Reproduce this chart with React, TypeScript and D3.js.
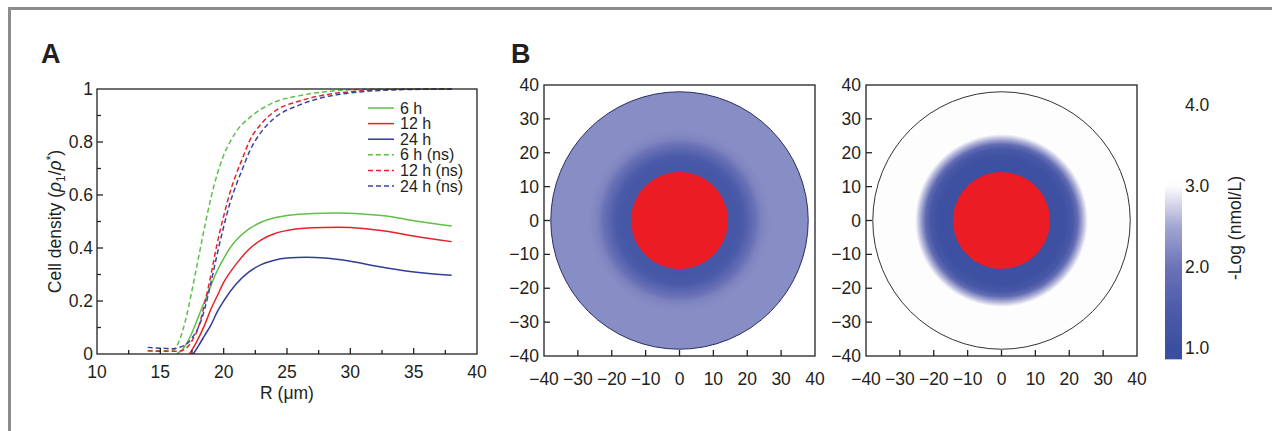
import React from 'react';
import * as d3 from 'd3';

// panel A: cell density vs R
const rSolid6 = [16.3, 16.8, 17.5, 18, 18.5, 19, 19.5, 20, 20.5, 21, 22, 23, 24, 25, 27, 29, 31, 33, 35, 38];
const vSolid6 = [0, 0.02, 0.08, 0.14, 0.2, 0.26, 0.315, 0.36, 0.4, 0.43, 0.472, 0.498, 0.514, 0.523, 0.53, 0.532, 0.528, 0.52, 0.503, 0.483];
const rSolid12 = [17.3, 17.8, 18.5, 19, 19.5, 20, 21, 22, 23, 24, 25, 27, 29, 31, 33, 35, 38];
const vSolid12 = [0, 0.04, 0.11, 0.17, 0.22, 0.27, 0.34, 0.395, 0.432, 0.454, 0.466, 0.476, 0.478, 0.474, 0.462, 0.445, 0.424];
const rSolid24 = [17.6, 18, 18.5, 19, 19.5, 20, 21, 22, 23, 24, 25, 26.5, 28, 30, 32, 34, 36, 38];
const vSolid24 = [0, 0.03, 0.07, 0.11, 0.16, 0.2, 0.265, 0.31, 0.338, 0.354, 0.362, 0.365, 0.362, 0.35, 0.332, 0.316, 0.305, 0.297];
const rDash6 = [14, 15, 16, 16.5, 17, 17.5, 18, 18.5, 19, 19.5, 20, 20.5, 21, 22, 23, 24, 26, 28, 30, 33, 38];
const vDash6 = [0.012, 0.012, 0.015, 0.05, 0.13, 0.24, 0.36, 0.48, 0.59, 0.68, 0.75, 0.8, 0.84, 0.89, 0.925, 0.95, 0.975, 0.99, 0.997, 1, 1];
const rDash12 = [14, 15, 16.5, 17, 17.5, 18, 18.5, 19, 19.5, 20, 20.5, 21, 21.5, 22, 23, 24, 26, 28, 30, 33, 38];
const vDash12 = [0.012, 0.01, 0.01, 0.02, 0.05, 0.1, 0.19, 0.3, 0.42, 0.52, 0.61, 0.68, 0.74, 0.8, 0.87, 0.915, 0.955, 0.978, 0.99, 0.998, 1];
const rDash24 = [14, 15, 16, 16.5, 17, 17.5, 18, 18.5, 19, 19.5, 20, 20.5, 21, 21.5, 22, 23, 24, 26, 28, 30, 33, 38];
const vDash24 = [0.025, 0.022, 0.02, 0.025, 0.035, 0.06, 0.1, 0.17, 0.27, 0.38, 0.48, 0.57, 0.64, 0.7, 0.76, 0.84, 0.89, 0.94, 0.97, 0.985, 0.996, 1];

const seriesNames = ['6 h', '12 h', '24 h', '6 h (ns)', '12 h (ns)', '24 h (ns)'];
const seriesColors = ['#5fbf4a', '#e5222a', '#2f3d98', '#5fbf4a', '#e5222a', '#3a43a2'];
const seriesDashed = [false, false, false, true, true, true];
const seriesR = [rSolid6, rSolid12, rSolid24, rDash6, rDash12, rDash24];
const seriesV = [vSolid6, vSolid12, vSolid24, vDash6, vDash12, vDash24];

const xTicksA = [10, 15, 20, 25, 30, 35, 40];
const xMinorA = [12.5, 17.5, 22.5, 27.5, 32.5, 37.5];
const yTicksA = [0, 0.2, 0.4, 0.6, 0.8, 1];
const yMinorA = [0.1, 0.3, 0.5, 0.7, 0.9];

// panel B: radial concentration profiles (-log nmol/L)
const fieldR = [0, 14.3, 17, 19, 21, 22.5, 24, 25.5, 27, 38];
const leftField = [1.25, 1.25, 1.3, 1.45, 1.75, 1.98, 2.15, 2.22, 2.25, 2.25];
const rightField = [1.05, 1.05, 1.05, 1.1, 1.35, 1.85, 2.55, 3.0, 3.0, 3.0];
const cellRadius = 14.3;
const domainRadius = 38;
const ticksB = [-40, -30, -20, -10, 0, 10, 20, 30, 40];

const cbValues = [1, 1.5, 2, 2.5, 3];
const cbColors = ['#3b4fa0', '#4e5caa', '#6b73b7', '#a3a6d2', '#fdfdfe'];
const cbTicks = [1, 2, 3, 4];

const fmtB = (v: number) => (v < 0 ? '\u2212' + Math.abs(v) : String(v));

export default function App() {
  const font = 'Liberation Sans, Arial, sans-serif';
  const fs = 17.5;
  const xA = d3.scaleLinear().domain([10, 40]).range([97, 477]);
  const yA = d3.scaleLinear().domain([0, 1]).range([354, 89]);
  const line = d3
    .line<[number, number]>()
    .x((d) => xA(d[0]))
    .y((d) => yA(d[1]))
    .curve(d3.curveMonotoneX);

  const yB = d3.scaleLinear().domain([-40, 40]).range([356, 85]);
  const xB1 = d3.scaleLinear().domain([-40, 40]).range([544, 815]);
  const xB2 = d3.scaleLinear().domain([-40, 40]).range([866, 1137]);
  const color = d3.scaleLinear<string>().domain(cbValues).range(cbColors).clamp(true);
  const yCb = d3.scaleLinear().domain([1, 3]).range([348, 186]);

  function field(x: d3.ScaleLinear<number, number>, id: string, vals: number[], stroke: string) {
    const cx = x(0);
    const cy = yB(0);
    const R = x(domainRadius) - cx;
    return (
      <g>
        <defs>
          <radialGradient id={id} gradientUnits="userSpaceOnUse" cx={cx} cy={cy} r={R}>
            {fieldR.map((r, i) => (
              <stop key={i} offset={r / domainRadius} stopColor={color(vals[i])} />
            ))}
          </radialGradient>
        </defs>
        <circle cx={cx} cy={cy} r={R} fill={`url(#${id})`} stroke={stroke} strokeWidth={1} />
        <circle cx={cx} cy={cy} r={x(cellRadius) - cx} fill="#ec1c24" />
        <rect x={x(-40)} y={yB(40)} width={x(40) - x(-40)} height={yB(-40) - yB(40)} fill="none" stroke="#222" strokeWidth={1.3} />
        {ticksB.slice(1, -1).map((t) => (
          <g key={t}>
            <line x1={x(t)} x2={x(t)} y1={yB(-40)} y2={yB(-40) - 6} stroke="#222" strokeWidth={1.3} />
            <line x1={x(-40)} x2={x(-40) + 6} y1={yB(t)} y2={yB(t)} stroke="#222" strokeWidth={1.3} />
          </g>
        ))}
        {ticksB.map((t) => (
          <text key={'x' + t} x={x(t)} y={yB(-40) + 29} textAnchor="middle" fontSize={fs}>
            {fmtB(t)}
          </text>
        ))}
        {ticksB.map((t) => (
          <text key={'y' + t} x={x(-40) - 5} y={yB(t) + 6} textAnchor="end" fontSize={fs}>
            {fmtB(t)}
          </text>
        ))}
      </g>
    );
  }

  const cbTop = yCb(3.05);
  const cbBottom = yCb(0.86);

  return (
    <svg width={1272} height={431} style={{ position: 'absolute', left: 0, top: 0, background: '#fff' }} fontFamily={font} fill="#231f20">
      <path d="M9.5,431 L9.5,8.5 L1272,8.5" fill="none" stroke="#8c8c8c" strokeWidth={3} />

      {/* panel A */}
      <text x={41} y={63} fontSize={27} fontWeight="bold">A</text>
      {seriesR.map((rs, i) => (
        <path
          key={i}
          d={line(rs.map((r, j) => [r, seriesV[i][j]] as [number, number])) || ''}
          fill="none"
          stroke={seriesColors[i]}
          strokeWidth={1.5}
          strokeDasharray={seriesDashed[i] ? '5,3' : undefined}
        />
      ))}
      <rect x={xA(10)} y={yA(1)} width={xA(40) - xA(10)} height={yA(0) - yA(1)} fill="none" stroke="#222" strokeWidth={1.3} />
      {xTicksA.slice(1, -1).map((t) => (
        <line key={t} x1={xA(t)} x2={xA(t)} y1={yA(0)} y2={yA(0) - 6} stroke="#222" strokeWidth={1.3} />
      ))}
      {xMinorA.map((t) => (
        <line key={t} x1={xA(t)} x2={xA(t)} y1={yA(0)} y2={yA(0) - 4} stroke="#222" strokeWidth={1.3} />
      ))}
      {yTicksA.slice(1, -1).map((t) => (
        <line key={t} x1={xA(10)} x2={xA(10) + 6} y1={yA(t)} y2={yA(t)} stroke="#222" strokeWidth={1.3} />
      ))}
      {yMinorA.map((t) => (
        <line key={t} x1={xA(10)} x2={xA(10) + 4} y1={yA(t)} y2={yA(t)} stroke="#222" strokeWidth={1.3} />
      ))}
      {xTicksA.map((t) => (
        <text key={t} x={xA(t)} y={yA(0) + 24} textAnchor="middle" fontSize={fs}>{t}</text>
      ))}
      {yTicksA.map((t) => (
        <text key={t} x={xA(10) - 4} y={yA(t) + 6} textAnchor="end" fontSize={fs}>{String(t)}</text>
      ))}
      <text x={(xA(10) + xA(40)) / 2} y={399} textAnchor="middle" fontSize={fs}>R (μm)</text>
      <text transform={`translate(61,${(yA(0) + yA(1)) / 2}) rotate(-90)`} textAnchor="middle" fontSize={fs}>
        Cell density (<tspan fontStyle="italic">ρ</tspan>
        <tspan fontSize={12} dy={4}>1</tspan>
        <tspan dy={-4}>/</tspan>
        <tspan fontStyle="italic">ρ</tspan>
        <tspan fontSize={12} dy={-6}>*</tspan>
        <tspan dy={6}>)</tspan>
      </text>
      {seriesNames.map((n, i) => (
        <g key={n}>
          <line x1={368} x2={394} y1={108 + i * 15.6} y2={108 + i * 15.6} stroke={seriesColors[i]} strokeWidth={1.5} strokeDasharray={seriesDashed[i] ? '5,3' : undefined} />
          <text x={400} y={113.5 + i * 15.6} fontSize={16}>{n}</text>
        </g>
      ))}

      {/* panel B */}
      <text x={511} y={63} fontSize={27} fontWeight="bold">B</text>
      {field(xB1, 'fieldLeft', leftField, '#2b2e60')}
      {field(xB2, 'fieldRight', rightField, '#333')}

      <defs>
        <linearGradient id="cbGrad" gradientUnits="userSpaceOnUse" x1={0} x2={0} y1={yCb(1)} y2={yCb(3)}>
          {cbValues.map((v, i) => (
            <stop key={v} offset={(v - 1) / 2} stopColor={cbColors[i]} />
          ))}
        </linearGradient>
      </defs>
      <rect x={1165} y={cbTop} width={17} height={cbBottom - cbTop} fill="url(#cbGrad)" />
      {cbTicks.map((t) => (
        <text key={t} x={1185} y={yCb(t) + 6} fontSize={fs}>{t.toFixed(1)}</text>
      ))}
      <text transform="translate(1241,228) rotate(-90)" textAnchor="middle" fontSize={fs}>-Log (nmol/L)</text>
    </svg>
  );
}
